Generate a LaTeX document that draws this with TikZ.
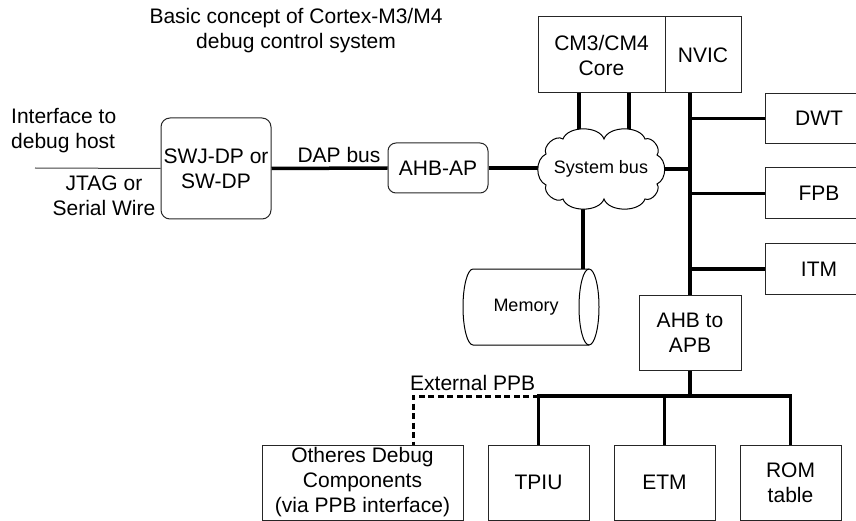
\documentclass[tikz,border=0pt]{standalone}
\usepackage{fontspec}
\setmainfont{Liberation Sans}
\begin{document}
\begin{tikzpicture}[x=1pt,y=-1pt,
  every node/.style={font=\fontsize{21}{25}\selectfont, inner sep=0pt},
  box/.style={draw=black!85, line width=1pt, align=center},
  rbox/.style={box, rounded corners=9pt},
  bus/.style={line width=3.5pt, black},
  thin/.style={line width=1pt, black!75},
  small/.style={font=\fontsize{18}{22}\selectfont}
]
\useasboundingbox (0,0) rectangle (856,521);
\clip (0,0) rectangle (856,521);

% title and side labels
\node[align=center] (title) at (296,31) {Basic concept of Cortex-M3/M4\\debug control system};
\node[align=left, anchor=west] (iface) at (11,131) {Interface to\\debug host};
\node[align=center] (jtag) at (104,196) {JTAG or\\Serial Wire};

% boxes
\node[rbox, minimum width=110pt, minimum height=101pt] (swj) at (216,168.5) {SWJ-DP or\\SW-DP};
\node[rbox, minimum width=100pt, minimum height=50pt, rounded corners=8pt] (ahbap) at (438,168) {AHB-AP};
\node[box, minimum width=127pt, minimum height=76pt] (core) at (601.5,55) {CM3/CM4\\Core};
\node[box, minimum width=76pt, minimum height=76pt] (nvic) at (703,55) {NVIC};
\node[box, minimum width=108pt, minimum height=50pt] (dwt) at (819,118.5) {DWT};
\node[box, minimum width=108pt, minimum height=51pt] (fpb) at (819,193.5) {FPB};
\node[box, minimum width=108pt, minimum height=50pt] (itm) at (819,269) {ITM};
\node[box, minimum width=102pt, minimum height=75pt] (apb) at (690,332.5) {AHB to\\APB};
\node[box, minimum width=201pt, minimum height=75pt] (others) at (362.5,482.5) {Otheres Debug\\Components\\(via PPB interface)};
\node[box, minimum width=101pt, minimum height=75pt] (tpiu) at (538.5,482.5) {TPIU};
\node[box, minimum width=101pt, minimum height=75pt] (etm) at (664.5,482.5) {ETM};
\node[box, minimum width=101pt, minimum height=75pt] (rom) at (790.5,482.5) {ROM\\table};

% coordinates
\coordinate (host) at (35,168);
\coordinate (sysc) at (601,169);
\coordinate (memtop) at (583,269);
\coordinate (ppb) at (690,396);
\coordinate (ext) at (413,396);

% DAP bus
\draw[thin] (host) -- (swj.west);
\draw[bus] (swj.east) -- (ahbap.west);
\node[anchor=base] (daplabel) at (339,163) {DAP bus};

% connections to system bus (under the cloud)
\draw[bus] (ahbap.east) -- (ahbap.east -| sysc);
\draw[bus] (579,93) -- (579,150);
\draw[bus] (629,93) -- (629,150);
\draw[bus] (sysc) -- (sysc -| apb.north);
\draw[bus] (memtop |- sysc) -- (memtop);

% main PPB bus
\draw[bus] (apb.north |- nvic.south) -- (apb.north);
\draw[bus] (apb.north |- dwt.west) -- (dwt.west);
\draw[bus] (apb.north |- fpb.west) -- (fpb.west);
\draw[bus] (apb.north |- itm.west) -- (itm.west);
\draw[bus] (apb.south) -- (ppb);
\draw[bus, line join=miter] (tpiu.north) -- (tpiu.north |- ppb) -- (rom.north |- ppb) -- (rom.north);
\draw[bus] (etm.north |- ppb) -- (etm.north);
\draw[line width=3pt, dash pattern=on 6pt off 3.5pt] (tpiu.north |- ppb) -- (ext) -- (ext |- others.north);
\node[anchor=base west] (extlabel) at (410,390) {External PPB};

% cloud
\draw[line width=1pt, fill=white]
  (546,154) to[bend left=75, looseness=1.0] (563,139)
  to[bend left=70, looseness=0.9] (604,139)
  to[bend left=70, looseness=0.9] (645,139)
  to[bend left=75, looseness=1.0] (657,155)
  to[bend left=65, looseness=1.0] (657,184)
  to[bend left=75, looseness=1.0] (645,199)
  to[bend left=70, looseness=0.9] (604,199)
  to[bend left=70, looseness=0.9] (563,199)
  to[bend left=75, looseness=1.0] (546,185)
  to[bend left=65, looseness=1.0] cycle;
\node[small] (sysbus) at (sysc) {System bus};

% memory cylinder
\draw[line width=1pt, fill=white]
  (473,269) -- (589,269) arc[start angle=-90, end angle=90, x radius=10, y radius=38]
  -- (473,345) arc[start angle=90, end angle=270, x radius=10, y radius=38] -- cycle;
\draw[line width=1pt] (589,269) arc[start angle=-90, end angle=-270, x radius=10, y radius=38];
\node[small] (mem) at (526,307) {Memory};
\end{tikzpicture}
\end{document}
